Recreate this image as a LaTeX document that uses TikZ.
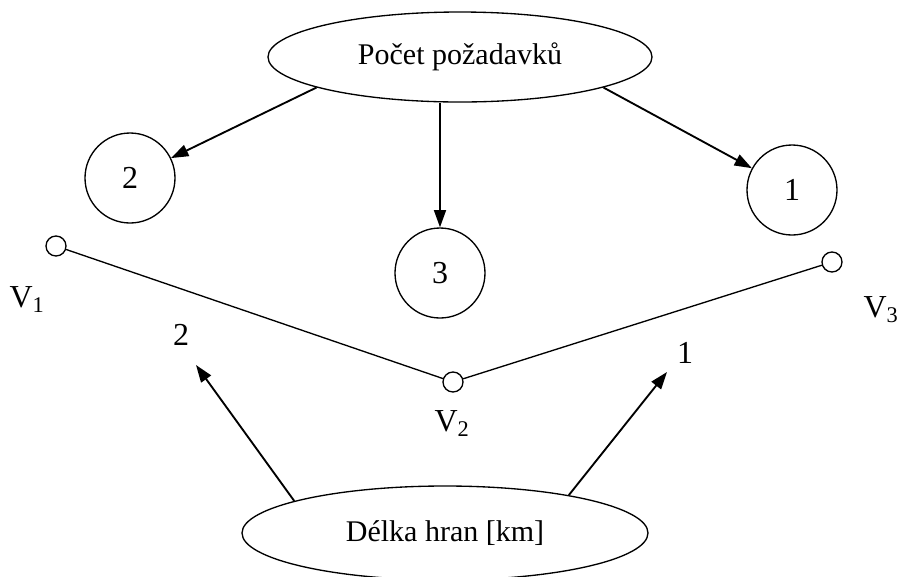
\documentclass[tikz,border=0pt]{standalone}
\usepackage{fontspec}
\setmainfont{Liberation Serif}
\usetikzlibrary{shapes.geometric,arrows.meta}
\begin{document}
\begin{tikzpicture}[x=0.75pt,y=-0.75pt,
  every node/.style={font=\fontsize{22.5}{27}\selectfont},
  bigfont/.style={font=\fontsize{24}{28}\selectfont},
  bigell/.style={draw,ellipse,line width=1pt,inner sep=0pt},
  numcirc/.style={draw,circle,line width=1pt,minimum size=67.5pt,inner sep=0pt,bigfont},
  vert/.style={draw,circle,line width=1pt,minimum size=15pt,inner sep=0pt},
  edge/.style={line width=1pt},
  arr/.style={line width=1.4pt,-{Triangle[length=13pt,width=9pt]}},
  lbl/.style={inner sep=0pt,bigfont}]
\useasboundingbox (0,0) rectangle (900,576);
% top ellipse and circles
\node[bigell,minimum width=288pt,minimum height=67.5pt] (top) at (460,57) {Počet požadavků};
\node[numcirc] (c2) at (130,178) {2};
\node[numcirc] (c3) at (440,273) {3};
\node[numcirc] (c1) at (792,190) {1};
\draw[arr] (top.192) -- (c2);
\draw[arr] (c3.north |- top.south) -- (c3.north);
\draw[arr] (top.-12) -- (c1);
% vertices
\node[vert] (v1) at (56,246) {};
\node[vert] (v2) at (453,382) {};
\node[vert] (v3) at (832,262) {};
\draw[edge] (v1) -- (v2);
\draw[edge] (v2) -- (v3);
\node[lbl] (l1) at (27,300) {V\textsubscript{1}};
\node[lbl] (l2) at (452,424) {V\textsubscript{2}};
\node[lbl] (l3) at (881,310) {V\textsubscript{3}};
\node[lbl] (e12) at (181,335) {2};
\node[lbl] (e23) at (685,353) {1};
% bottom ellipse
\node[bigell,minimum width=304.5pt,minimum height=70.5pt] (bot) at (445,533) {Délka hran [km]};
\coordinate (t1) at (196,365);
\coordinate (t2) at (667,372);
\draw[arr] (bot.168) -- (t1);
\draw[arr] (bot.17) -- (t2);
\end{tikzpicture}
\end{document}
